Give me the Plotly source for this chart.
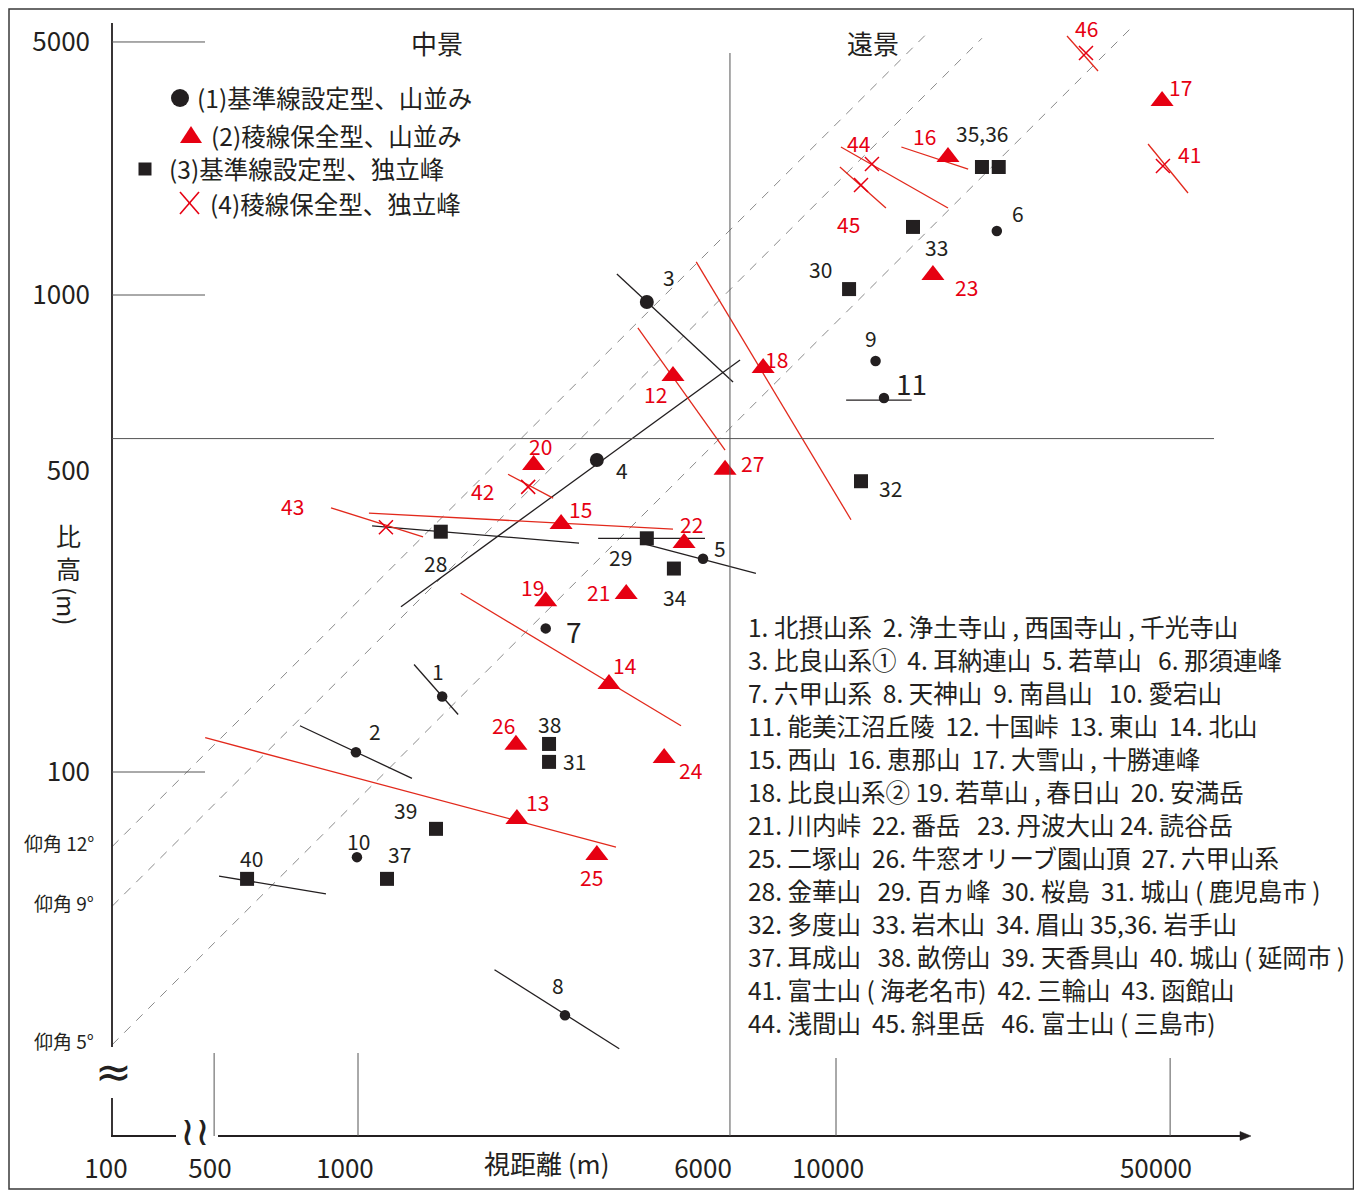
import math
import plotly.graph_objects as go

# ---------------- data ----------------
# (1) 基準線設定型、山並み  -> black circles
CIRCLE_IDS = [1, 2, 3, 4, 5, 6, 7, 8, 9, 10, 11]
CIRCLE_X = [1500, 990, 4020, 3160, 5270, 21700, 2470, 2710, 12100, 995, 12600]
CIRCLE_Y = [144, 110, 967, 451, 280, 1362, 200, 30.9, 727, 66.3, 608]

# (2) 稜線保全型、山並み -> red triangles
TRIANGLE_IDS = [12, 13, 14, 15, 16, 17, 18, 19, 20, 21, 22, 23, 24, 25, 26, 27]
TRIANGLE_X = [4560, 2150, 3350, 2660, 17150, 48100, 7040, 2470, 2330, 3640,
              4810, 15950, 4370, 3160, 2140, 5860]
TRIANGLE_Y = [676, 79.7, 153, 331, 1947, 2551, 703, 228, 440, 236,
              302, 1101, 107, 67.0, 114, 430]

# (3) 基準線設定型、独立峰 -> black squares
SQUARE_IDS = [28, 29, 30, 31, 32, 33, 34, 35, 36, 37, 38, 39, 40]
SQUARE_X = [1490, 4020, 10650, 2510, 11280, 14490, 4580, 20200, 21900, 1150, 2510, 1456, 586]
SQUARE_Y = [319, 309, 1029, 105, 407, 1389, 267, 1855, 1855, 59.7, 114.5, 76.0, 59.7]

# (4) 稜線保全型、独立峰 -> red crosses
CROSS_IDS = [41, 42, 43, 44, 45, 46]
CROSS_X = [48300, 2270, 1144, 11890, 11280, 33340]
CROSS_Y = [1864, 396, 326, 1882, 1701, 3216]

# range segments drawn through some sites (start / end of each segment)
RANGE_IDS = [1, 2, 3, 4, 5, 8, 11, 12, 13, 14, 15, 16, 18, 28, 29, 40, 41, 42, 43, 44, 45, 46]
RANGE_X0 = [1310, 756, 3480, 1230, 3950, 1930, 10500, 3850, 479, 1640, 1054, 13700, 5100,
            1070, 3180, 512, 44960, 2060, 878, 10240, 10190, 30430]
RANGE_Y0 = [168, 125, 1107, 222, 301, 38.5, 602, 853, 118, 237, 349, 2043, 1173,
            328, 309, 60.5, 2073, 421, 358, 2043, 1855, 3491]
RANGE_X1 = [1620, 1297, 6090, 6300, 6800, 3520, 14400, 5860, 3465, 4740, 4560, 18900, 10750,
            2900, 5320, 857, 54500, 2560, 1368, 17150, 12720, 35330]
RANGE_Y1 = [132, 97, 657, 731, 261, 26.3, 602, 473, 69.6, 125, 323, 1837, 338,
            302, 309, 55.5, 1636, 375, 311, 1522, 1522, 2948]

# elevation-angle guide lines (height / distance ratio)
ANGLE_NAMES = ["仰角 12°", "仰角 9°", "仰角 5°"]
ANGLE_RATIO = [0.228, 0.171, 0.0876]
ANGLE_X_FROM = [306, 306, 306]
ANGLE_X_TO = [15500, 20200, 41200]

# axis tick labels (placed where the reference prints them)
X_TICK_TEXT = ["100", "500", "1000", "6000", "10000", "50000"]
X_TICK_AT = [297, 490, 939, 5270, 9623, 46710]
Y_TICK_TEXT = ["100", "500", "1000", "5000"]
Y_TICK_AT = [100, 428, 1000, 3392]

# guide lines
X_GUIDES = [500, 1000, 10000, 50000]
X_ZONE_SPLIT = 6000          # 中景 / 遠景 boundary
Y_GUIDES = [100, 1000, 3392]
Y_ZONE_SPLIT = 500

LEGEND_TEXT = ["(1)基準線設定型、山並み", "(2)稜線保全型、山並み",
               "(3)基準線設定型、独立峰", "(4)稜線保全型、独立峰"]
ZONE_TEXT = ["中景", "遠景"]

SITE_LIST = [
    "1. 北摂山系\u00a0 2. 浄土寺山 , 西国寺山 , 千光寺山",
    "3. 比良山系①\u00a0 4. 耳納連山\u00a0 5. 若草山\u00a0\u00a0 6. 那須連峰",
    "7. 六甲山系\u00a0 8. 天神山\u00a0 9. 南昌山\u00a0\u00a0 10. 愛宕山",
    "11. 能美江沼丘陵\u00a0 12. 十国峠\u00a0 13. 東山\u00a0 14. 北山",
    "15. 西山\u00a0 16. 恵那山\u00a0 17. 大雪山 , 十勝連峰",
    "18. 比良山系② 19. 若草山 , 春日山\u00a0 20. 安満岳",
    "21. 川内峠\u00a0 22. 番岳\u00a0\u00a0 23. 丹波大山 24. 読谷岳",
    "25. 二塚山\u00a0 26. 牛窓オリーブ園山頂\u00a0 27. 六甲山系",
    "28. 金華山\u00a0\u00a0 29. 百ヵ峰\u00a0 30. 桜島\u00a0 31. 城山 ( 鹿児島市 )",
    "32. 多度山\u00a0 33. 岩木山\u00a0 34. 眉山 35,36. 岩手山",
    "37. 耳成山\u00a0\u00a0 38. 畝傍山\u00a0 39. 天香具山\u00a0 40. 城山 ( 延岡市 )",
    "41. 富士山 ( 海老名市)\u00a0 42. 三輪山\u00a0 43. 函館山",
    "44. 浅間山\u00a0 45. 斜里岳\u00a0\u00a0 46. 富士山 ( 三島市)",
]

# ---------------- style / layout ----------------
FONT = "Noto Sans CJK JP, Noto Sans, sans-serif"
BLACK = "#231f20"
RED = "#e60012"
RED_LINE = "#e2291c"
GRAY = "#555555"

OFF = 8                      # page body margin in the browser
W, H = 1362 - OFF, 1191 - OFF
PAGE_LEFT, PAGE_RIGHT, PAGE_TOP, PAGE_BOTTOM = 92, 1250, 10, 1135
ML, MT = PAGE_LEFT - OFF, PAGE_TOP - OFF
MR, MB = W - (PAGE_RIGHT - OFF), H - (PAGE_BOTTOM - OFF)
PLOT_W = PAGE_RIGHT - PAGE_LEFT
PLOT_H = PAGE_BOTTOM - PAGE_TOP
PX_PER_DEC_X = 478.0
PX_PER_DEC_Y = 477.0


def px(x):  # page pixel -> paper fraction (x)
    return (x - PAGE_LEFT) / PLOT_W


def py(y):  # page pixel -> paper fraction (y)
    return (PAGE_BOTTOM - y) / PLOT_H


X_RANGE = [3 + (PAGE_LEFT - 358) / PX_PER_DEC_X, 3 + (PAGE_RIGHT - 358) / PX_PER_DEC_X]
Y_RANGE = [3 - (PAGE_BOTTOM - 295) / PX_PER_DEC_Y, 3 + (295 - PAGE_TOP) / PX_PER_DEC_Y]

LABEL_OFFSET = {
    1: (-4, 25), 2: (19, 21), 3: (22, 25), 4: (25, -10), 5: (17, 11), 6: (21, 18),
    7: (28, -3), 8: (-7, 30), 9: (-5, 23), 10: (2, 16), 11: (28, 15),
    12: (-17, -18), 13: (21, 17), 14: (16, 19), 15: (19, 15), 16: (-23, 21),
    17: (18, 14), 18: (13, 9), 19: (-13, 14), 20: (7, 19), 21: (-28, 2),
    22: (7, 19), 23: (34, -12), 24: (26, -12), 25: (-5, -22), 26: (-12, 20),
    27: (27, 7), 28: (-5, -31), 29: (-26, -19), 30: (-29, 20), 31: (25, 1),
    32: (29, -7), 33: (24, -20), 34: (1, -28), 35: (0, 34), 37: (12, 25),
    38: (0, 20), 39: (-30, 19), 40: (4, 21), 41: (27, 12), 42: (-46, -4),
    43: (-93, 21), 44: (-13, 21), 45: (-13, -39), 46: (1, 25),
}
LABEL_TEXT = {35: "35,36", 36: ""}
BIG_LABELS = {7, 11}


def text_ann(xp, yp, txt, size, color=BLACK, xanchor="center", family=FONT, **kw):
    d = dict(x=px(xp), y=py(yp), xref="paper", yref="paper", text=txt, showarrow=False,
             xanchor=xanchor, yanchor="middle", font=dict(family=family, size=size, color=color))
    d.update(kw)
    return d


fig = go.Figure()

# elevation-angle dashed lines
for ratio, xa, xb in zip(ANGLE_RATIO, ANGLE_X_FROM, ANGLE_X_TO):
    fig.add_trace(go.Scatter(
        x=[xa, xb], y=[xa * ratio, xb * ratio], mode="lines",
        line=dict(color="#8a8a8a", width=1, dash="9px,8px"),
        hoverinfo="skip", showlegend=False))

red_ids = set(TRIANGLE_IDS) | set(CROSS_IDS)
for want_red in (False, True):
    xs, ys = [], []
    for i, sid in enumerate(RANGE_IDS):
        if (sid in red_ids) == want_red:
            xs += [RANGE_X0[i], RANGE_X1[i], None]
            ys += [RANGE_Y0[i], RANGE_Y1[i], None]
    fig.add_trace(go.Scatter(
        x=xs, y=ys, mode="lines",
        line=dict(color=RED_LINE if want_red else BLACK, width=1.3),
        hoverinfo="skip", showlegend=False))

circle_sizes = [14 if sid in (3, 4) else 10.5 for sid in CIRCLE_IDS]
fig.add_trace(go.Scatter(x=CIRCLE_X, y=CIRCLE_Y, mode="markers", name=LEGEND_TEXT[0],
                         marker=dict(symbol="circle", size=circle_sizes, color=BLACK,
                                     opacity=1, line=dict(width=0)),
                         showlegend=False))
fig.add_trace(go.Scatter(x=TRIANGLE_X, y=TRIANGLE_Y, mode="markers", name=LEGEND_TEXT[1],
                         marker=dict(symbol="triangle-up", size=20, color=RED,
                                     opacity=1, line=dict(width=0)),
                         showlegend=False))
fig.add_trace(go.Scatter(x=SQUARE_X, y=SQUARE_Y, mode="markers", name=LEGEND_TEXT[2],
                         marker=dict(symbol="square", size=14, color=BLACK,
                                     opacity=1, line=dict(width=0)),
                         showlegend=False))
fig.add_trace(go.Scatter(x=CROSS_X, y=CROSS_Y, mode="markers", name=LEGEND_TEXT[3],
                         marker=dict(symbol="x-thin", size=14, color=RED, opacity=1,
                                     line=dict(color=RED, width=1.5)),
                         showlegend=False))

ann = []
# point labels
for ids, xs, ys, color in ((CIRCLE_IDS, CIRCLE_X, CIRCLE_Y, BLACK),
                           (TRIANGLE_IDS, TRIANGLE_X, TRIANGLE_Y, RED),
                           (SQUARE_IDS, SQUARE_X, SQUARE_Y, BLACK),
                           (CROSS_IDS, CROSS_X, CROSS_Y, RED)):
    for sid, xv, yv in zip(ids, xs, ys):
        txt = LABEL_TEXT.get(sid, str(sid))
        if not txt:
            continue
        dx, dy = LABEL_OFFSET[sid]
        ann.append(dict(x=math.log10(xv), y=math.log10(yv), xref="x", yref="y",
                        text=txt, showarrow=False, xshift=dx, yshift=dy,
                        xanchor="center", yanchor="middle",
                        font=dict(family=FONT, size=28 if sid in BIG_LABELS else 21,
                                  color=color)))

# elevation angle labels
for name, ratio, xa in zip(ANGLE_NAMES, ANGLE_RATIO, ANGLE_X_FROM):
    ann.append(dict(x=math.log10(xa), y=math.log10(xa * ratio), xref="x", yref="y",
                    text=name, showarrow=False, xanchor="right", yanchor="middle",
                    xshift=-16, yshift=4,
                    font=dict(family=FONT, size=19, color=BLACK)))

# zone titles
for txt, xpix in zip(ZONE_TEXT, (437, 873)):
    ann.append(text_ann(xpix, 42, txt, 26))

# axis titles
ann.append(text_ann(68, 551, "比<br>高", 25))
ann.append(text_ann(68, 606, "(m)", 24, textangle=90))
ann.append(text_ann(546, 1162, "視距離 (m)", 26))

# axis break marks
ann.append(text_ann(113, 1071, "≈", 44, family="DejaVu Sans"))
ann.append(text_ann(195, 1131, "≀≀", 40, family="DejaVu Sans"))

# legend text
for txt, (xl, yc) in zip(LEGEND_TEXT, ((195, 98), (209, 135), (167, 169), (208, 203))):
    ann.append(text_ann(xl, yc, txt, 24.5, xanchor="left"))

# site list
for i, line in enumerate(SITE_LIST):
    ann.append(text_ann(746, 626 + 33 * i, line, 24.5, xanchor="left"))

shapes = []
# frame
shapes.append(dict(type="rect", xref="paper", yref="paper", x0=px(9), x1=px(1353.5),
                   y0=py(1189), y1=py(9), line=dict(color="#3a3a3a", width=1.5)))
# y axis (broken)
shapes.append(dict(type="line", xref="paper", yref="paper", x0=px(112), x1=px(112),
                   y0=py(23), y1=py(1047), line=dict(color=BLACK, width=1.8)))
shapes.append(dict(type="line", xref="paper", yref="paper", x0=px(112), x1=px(112),
                   y0=py(1098), y1=py(1136), line=dict(color=BLACK, width=1.8)))
shapes.append(dict(type="line", xref="paper", yref="paper", x0=px(111), x1=px(176),
                   y0=py(1136), y1=py(1136), line=dict(color=BLACK, width=2)))
# x axis with arrow
shapes.append(dict(type="line", xref="paper", yref="paper", x0=px(218), x1=px(1242),
                   y0=py(1136), y1=py(1136), line=dict(color=BLACK, width=2.2)))
shapes.append(dict(type="path", xref="paper", yref="paper",
                   path=f"M {px(1240)} {py(1131.5)} L {px(1251)} {py(1136)} L {px(1240)} {py(1140.5)} Z",
                   fillcolor=BLACK, line=dict(color=BLACK, width=0.5)))
# vertical guides
for xv in X_GUIDES:
    shapes.append(dict(type="line", xref="x", yref="paper", x0=xv, x1=xv,
                       y0=py(1136), y1=py(1053 if xv < 5000 else 1058),
                       line=dict(color=GRAY, width=1)))
shapes.append(dict(type="line", xref="x", yref="paper", x0=X_ZONE_SPLIT, x1=X_ZONE_SPLIT,
                   y0=py(1136), y1=py(53), line=dict(color=GRAY, width=1)))
# horizontal guides
for yv in Y_GUIDES:
    shapes.append(dict(type="line", xref="paper", yref="y", x0=px(112), x1=px(205),
                       y0=yv, y1=yv, line=dict(color=GRAY, width=1)))
shapes.append(dict(type="line", xref="paper", yref="y", x0=px(112), x1=px(1214),
                   y0=Y_ZONE_SPLIT, y1=Y_ZONE_SPLIT, line=dict(color=GRAY, width=1)))
# legend symbols
shapes.append(dict(type="circle", xref="paper", yref="paper", x0=px(171), x1=px(189),
                   y0=py(107), y1=py(89), fillcolor=BLACK, line=dict(width=0)))
shapes.append(dict(type="path", xref="paper", yref="paper",
                   path=f"M {px(180)} {py(143)} L {px(202)} {py(143)} L {px(191)} {py(126)} Z",
                   fillcolor=RED, line=dict(width=0)))
shapes.append(dict(type="rect", xref="paper", yref="paper", x0=px(138.5), x1=px(151.5),
                   y0=py(175.5), y1=py(162.5), fillcolor=BLACK, line=dict(width=0)))
shapes.append(dict(type="line", xref="paper", yref="paper", x0=px(180), x1=px(199),
                   y0=py(192), y1=py(214), line=dict(color=RED, width=1.6)))
shapes.append(dict(type="line", xref="paper", yref="paper", x0=px(180), x1=px(199),
                   y0=py(214), y1=py(192), line=dict(color=RED, width=1.6)))

fig.update_layout(
    width=W, height=H,
    margin=dict(l=ML, r=MR, t=MT, b=MB, pad=0),
    paper_bgcolor="white", plot_bgcolor="rgba(0,0,0,0)",
    showlegend=False,
    font=dict(family=FONT, color=BLACK),
    annotations=ann, shapes=shapes,
    xaxis=dict(type="log", range=X_RANGE, showgrid=False, zeroline=False, showline=False,
               ticks="", tickvals=X_TICK_AT, ticktext=X_TICK_TEXT, ticklabelstandoff=16,
               tickfont=dict(family=FONT, size=26, color=BLACK), fixedrange=True),
    yaxis=dict(type="log", range=Y_RANGE, showgrid=False, zeroline=False, showline=False,
               ticks="", tickvals=Y_TICK_AT, ticktext=Y_TICK_TEXT, ticklabelstandoff=1,
               tickfont=dict(family=FONT, size=26, color=BLACK), fixedrange=True),
)

fig.write_html("out.html")
